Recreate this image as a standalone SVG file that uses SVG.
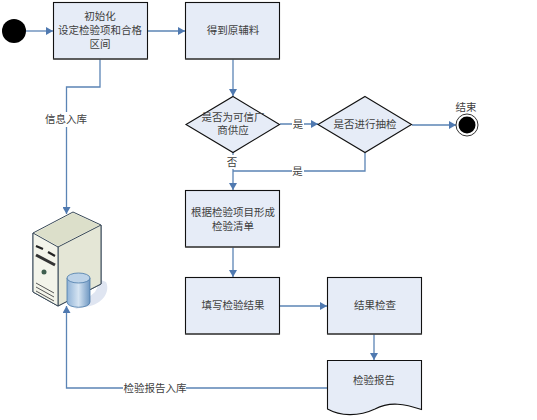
<svg xmlns="http://www.w3.org/2000/svg" width="537" height="420" viewBox="0 0 537 420">
<defs>
<style>
.n{fill:#e6ecf7;stroke:#111;stroke-width:1.1}
.sh{fill:none;stroke:#555;stroke-width:1.6}
.c{fill:none;stroke:#5b84b5;stroke-width:1.3}
text{font-family:"Liberation Sans","Noto Sans CJK SC",sans-serif;font-size:10.500px;fill:#404040;text-anchor:middle}
.lb{fill:#fff;stroke:none}
</style>
<marker id="a" markerUnits="userSpaceOnUse" markerWidth="8" markerHeight="8" refX="7" refY="4" orient="auto"><path d="M0,0L7,4L0,8Z" fill="#4f79b0"/></marker>
<linearGradient id="cy" x1="0" x2="1" y1="0" y2="0"><stop offset="0" stop-color="#8fb2d6"/><stop offset=".5" stop-color="#d5e4f2"/><stop offset="1" stop-color="#6e97c2"/></linearGradient>
<linearGradient id="fr" x1="0" x2="1" y1="0" y2="1"><stop offset="0" stop-color="#f2f3e8"/><stop offset="1" stop-color="#dcdfcc"/></linearGradient>
</defs>
<rect width="537" height="420" fill="#fff"/>
<g id="connectors">
<path class="c" d="M25,31H53" marker-end="url(#a)"/>
<path class="c" d="M147,31H185" marker-end="url(#a)"/>
<path class="c" d="M233,59V96" marker-end="url(#a)"/>
<path class="c" d="M280,124H318" marker-end="url(#a)"/>
<path class="c" d="M412,125H456" marker-end="url(#a)"/>
<path class="c" d="M233,152V190" marker-end="url(#a)"/>
<path class="c" d="M365,153V171H233"/>
<path class="c" d="M233,247V277" marker-end="url(#a)"/>
<path class="c" d="M280,306H327" marker-end="url(#a)"/>
<path class="c" d="M374,334V360" marker-end="url(#a)"/>
<path class="c" d="M100,59V87H66.500V214" marker-end="url(#a)"/>
<path class="c" d="M327,388H66.500V306" marker-end="url(#a)"/>
<rect class="lb" x="44" y="112" width="45" height="15"/>
<text x="66" y="123">信息入库</text>
<rect class="lb" x="292" y="117" width="12" height="14"/>
<text x="298" y="128">是</text>
<rect class="lb" x="292" y="164" width="12" height="13"/>
<text x="297.500" y="174.500">是</text>
<rect class="lb" x="226" y="155" width="14" height="14"/>
<text x="232" y="166">否</text>
<rect class="lb" x="123" y="381" width="63" height="15"/>
<text x="155" y="392">检验报告入库</text>
</g>
<g id="start"><circle cx="14" cy="31" r="12" fill="#000"/></g>
<g id="init"><rect class="n" x="53.500" y="2.500" width="94" height="56.500"/><path class="sh" d="M53.500,59H147.500"/>
<text x="100" y="20">初始化</text><text x="100" y="34">设定检验项和合格</text><text x="100" y="47.500">区间</text></g>
<g id="material"><rect class="n" x="185.500" y="2.500" width="94" height="56.500"/><path class="sh" d="M185.500,59H279.500"/><text x="233" y="34">得到原辅料</text></g>
<g id="supplier"><path class="n" d="M233,96.500L279.500,124.500L233,152.500L186,124.500Z"/><text x="233" y="120.500">是否为可信厂</text><text x="233" y="134">商供应</text></g>
<g id="sampling"><path class="n" d="M365,96.500L411.500,124.500L365,152.500L318,124.500Z"/><text x="365" y="128">是否进行抽检</text></g>
<g id="end"><circle cx="467" cy="125" r="11" fill="#fff" stroke="#333" stroke-width="1"/><circle cx="467" cy="125" r="8.500" fill="#000"/><text x="466" y="111">结束</text></g>
<g id="checklist"><rect class="n" x="185.500" y="190.500" width="94" height="56.500"/><path class="sh" d="M185.500,247H279.500"/><text x="233" y="216">根据检验项目形成</text><text x="233" y="230">检验清单</text></g>
<g id="fill"><rect class="n" x="185.500" y="277.500" width="94" height="56.500"/><path class="sh" d="M185.500,334H279.500"/><text x="233" y="309">填写检验结果</text></g>
<g id="review"><rect class="n" x="327.500" y="277.500" width="94" height="56.500"/><path class="sh" d="M327.500,334H421.500"/><text x="375" y="309">结果检查</text></g>
<g id="report"><path class="n" d="M327.500,360.500H421.500V409.500C405,404 390,401 375,409C358,417 340,416 327.500,409Z"/><text x="374" y="384">检验报告</text></g>
<g id="server">
<path d="M95,292L101,280L106,282C110,290 105,302 90,306L75,309Z" fill="#dfe5f1"/>
<path d="M33,233L73,212L101,225L101,284L58,306L33,292Z" fill="url(#fr)" stroke="#3a4a5a" stroke-width="1"/>
<path d="M58,247L101,225V284L58,306Z" fill="#e4e6d6" stroke="#3a4a5a" stroke-width="1"/>
<path d="M33,233L58,247V306L33,292Z" fill="#f3f4ea" stroke="#3a4a5a" stroke-width="1"/>
<path d="M35,233L73,213L99,225L58,246Z" fill="#dcdfca"/>
<path d="M36,246L43,249M48,252L55,256" stroke="#222" stroke-width="2.200"/>
<path d="M36,255L55,265" stroke="#333" stroke-width="3"/>
<circle cx="44" cy="272" r="2.500" fill="#3f5f4f"/>
<path d="M36,283L54,293M36,287L54,297M36,291L54,301" stroke="#555" stroke-width="1"/>
<path d="M67,278V302C67,309 90,309 90,302V278Z" fill="url(#cy)" stroke="#4a7aa8" stroke-width=".8"/>
<ellipse cx="78.500" cy="278" rx="11.500" ry="5" fill="#bdd3e8" stroke="#4a7aa8" stroke-width=".8"/>
</g>
</svg>
